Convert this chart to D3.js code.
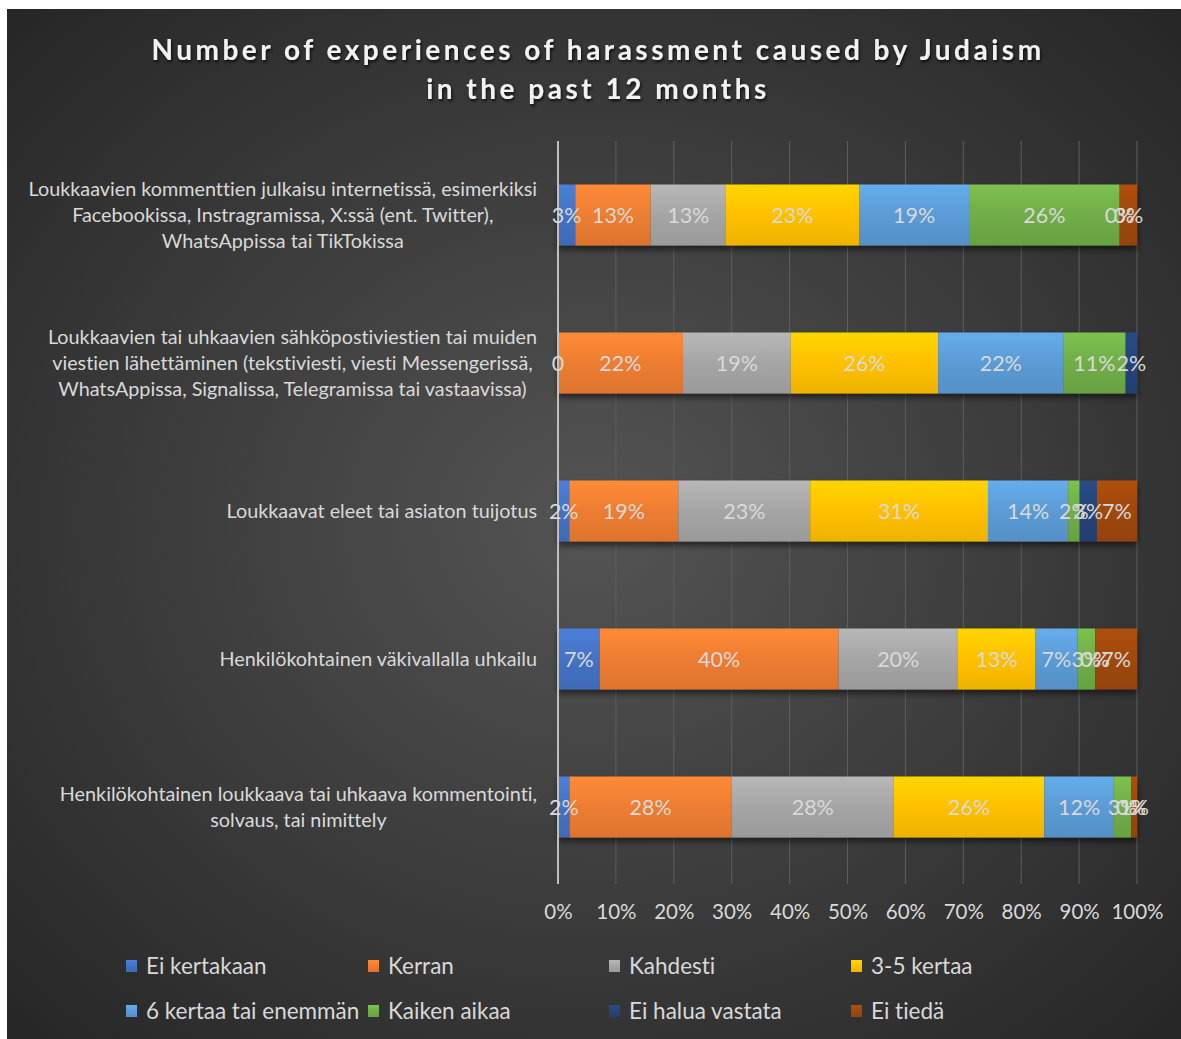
<!DOCTYPE html>
<html>
<head>
<meta charset="utf-8">
<script src="https://cdn.jsdelivr.net/npm/d3@7"></script>
<style>
  html, body { margin: 0; padding: 0; background: #ffffff; }
  svg { display: block; }
  text { font-variant-ligatures: none; }
</style>
</head>
<body>
<svg id="chart" width="1181" height="1039"></svg>
<script>
// Survey categories (rows of the chart)
const categories = [
  ["Loukkaavien kommenttien julkaisu internetissä, esimerkiksi",
   "Facebookissa, Instragramissa, X:ssä (ent. Twitter),",
   "WhatsAppissa tai TikTokissa"],
  ["Loukkaavien tai uhkaavien sähköpostiviestien tai muiden",
   "viestien lähettäminen (tekstiviesti, viesti Messengerissä,",
   "WhatsAppissa, Signalissa, Telegramissa tai vastaavissa)"],
  ["Loukkaavat eleet tai asiaton tuijotus"],
  ["Henkilökohtainen väkivallalla uhkailu"],
  ["Henkilökohtainen loukkaava tai uhkaava kommentointi,",
   "solvaus, tai nimittely"]
];

// Answer options (series)
const seriesNames = ["Ei kertakaan", "Kerran", "Kahdesti", "3-5 kertaa",
  "6 kertaa tai enemmän", "Kaiken aikaa", "Ei halua vastata", "Ei tiedä"];
const seriesColors = ["#4472C4", "#ED7D31", "#A5A5A5", "#FFC000",
  "#5B9BD5", "#70AD47", "#264478", "#9E480E"];

// Percent shares per series, one value per category (null = no answer recorded)
const eiKertakaan    = [3, 0, 2, 7, 2];
const kerran         = [13, 22, 19, 40, 28];
const kahdesti       = [13, 19, 23, 20, 28];
const kertaa3to5     = [23, 26, 31, 13, 26];
const kertaa6plus    = [19, 22, 14, 7, 12];
const kaikenAikaa    = [26, 11, 2, 3, 3];
const eiHaluaVastata = [0, 2, 3, 0, 0];
const eiTieda        = [3, null, 7, 7, 1];
const seriesValues = [eiKertakaan, kerran, kahdesti, kertaa3to5,
  kertaa6plus, kaikenAikaa, eiHaluaVastata, eiTieda];

// Cells whose label is shown as a bare number (category index, series index)
const plainNumberCells = [[1, 0]];

const tickValues = [0, 0.1, 0.2, 0.3, 0.4, 0.5, 0.6, 0.7, 0.8, 0.9, 1.0];

const titleLines = ["Number of experiences of harassment caused by Judaism",
  "in the past 12 months"];

// ---- layout ----
const W = 1181, H = 1039;
const font = "Lato, 'Open Sans', sans-serif";
const labelColor = "#d9d9d9";
const svg = d3.select("#chart");
const defs = svg.append("defs");

// background
const bg = defs.append("radialGradient").attr("id", "bgGrad")
  .attr("cx", "0.5").attr("cy", "0.5").attr("r", "0.72");
bg.append("stop").attr("offset", "0").attr("stop-color", "#545454");
bg.append("stop").attr("offset", "1").attr("stop-color", "#252525");
svg.append("rect").attr("x", 7).attr("y", 9).attr("width", W - 7).attr("height", H - 9)
  .attr("fill", "url(#bgGrad)");

// bar gradients
seriesColors.forEach((c, i) => {
  const g = defs.append("linearGradient").attr("id", "barGrad" + i)
    .attr("x1", 0).attr("y1", 0).attr("x2", 0).attr("y2", 1);
  g.append("stop").attr("offset", "0").attr("stop-color", d3.color(c).brighter(0.3));
  g.append("stop").attr("offset", "0.5").attr("stop-color", c);
  g.append("stop").attr("offset", "1").attr("stop-color", d3.color(c).darker(0.2));
});

// shadow under bars
const sh = defs.append("filter").attr("id", "barShadow")
  .attr("x", "-5%").attr("y", "-20%").attr("width", "110%").attr("height", "150%");
sh.append("feDropShadow").attr("dx", 0).attr("dy", 4).attr("stdDeviation", 3)
  .attr("flood-color", "#000").attr("flood-opacity", 0.55);

// title text shadow
const tsh = defs.append("filter").attr("id", "titleShadow")
  .attr("x", "-5%").attr("y", "-30%").attr("width", "110%").attr("height", "160%");
tsh.append("feDropShadow").attr("dx", 1).attr("dy", 2).attr("stdDeviation", 1.5)
  .attr("flood-color", "#000").attr("flood-opacity", 0.8);

// title
svg.append("g").attr("filter", "url(#titleShadow)")
  .selectAll("text").data(titleLines).join("text")
  .attr("x", 598).attr("y", (d, i) => 60 + i * 39)
  .attr("text-anchor", "middle")
  .attr("font-family", font).attr("font-weight", "bold")
  .attr("font-size", 28).attr("letter-spacing", 3.5)
  .attr("fill", "#f2f2f2")
  .text(d => d);

// scales
const x = d3.scaleLinear().domain([0, 1]).range([558, 1137]);
const y = d3.scaleBand().domain(d3.range(categories.length))
  .range([141, 881]).paddingInner(0.588).paddingOuter(0.294);

// gridlines
svg.append("g").selectAll("line").data(tickValues.slice(1)).join("line")
  .attr("x1", d => x(d)).attr("x2", d => x(d))
  .attr("y1", 141).attr("y2", 884)
  .attr("stroke", "#5e5e5e").attr("stroke-width", 1);

// stacked, normalised to 100%
const rows = categories.map((c, ci) => {
  const r = { idx: ci };
  seriesValues.forEach((arr, si) => { r[si] = arr[ci] == null ? 0 : arr[ci]; });
  return r;
});
const stack = d3.stack().keys(d3.range(seriesNames.length))
  .offset(d3.stackOffsetExpand);
const layers = stack(rows);

const barG = svg.append("g").attr("filter", "url(#barShadow)");
layers.forEach((layer, si) => {
  barG.selectAll(".s" + si).data(layer).join("rect")
    .attr("class", "s" + si)
    .attr("x", d => x(d[0]))
    .attr("y", d => y(d.data.idx))
    .attr("width", d => Math.max(0, x(d[1]) - x(d[0])))
    .attr("height", y.bandwidth())
    .attr("fill", `url(#barGrad${si})`);
});

// axis line at 0%
svg.append("line").attr("x1", x(0)).attr("x2", x(0))
  .attr("y1", 141).attr("y2", 884)
  .attr("stroke", "#bfbfbf").attr("stroke-width", 2);

// data labels
const labelG = svg.append("g");
layers.forEach((layer, si) => {
  labelG.selectAll(".l" + si)
    .data(layer.filter(d => seriesValues[si][d.data.idx] != null))
    .join("text")
    .attr("x", d => (x(d[0]) + x(d[1])) / 2)
    .attr("y", d => y(d.data.idx) + y.bandwidth() / 2)
    .attr("dy", "0.35em")
    .attr("text-anchor", "middle")
    .attr("font-family", font).attr("font-size", 21.5)
    .attr("fill", labelColor)
    .text(d => {
      const v = seriesValues[si][d.data.idx];
      const plain = plainNumberCells.some(p => p[0] === d.data.idx && p[1] === si);
      return plain ? String(v) : v + "%";
    });
});

// x axis tick labels
const axis = d3.axisBottom(x).tickValues(tickValues).tickFormat(d3.format(".0%"))
  .tickSize(0).tickPadding(0);
const axG = svg.append("g").attr("transform", "translate(0,905)").call(axis);
axG.select(".domain").remove();
axG.selectAll("text").attr("font-family", font).attr("font-size", 20.5)
  .attr("fill", labelColor).attr("dy", "0.35em").attr("y", 7);

// category labels: right-aligned block, lines centred within it
const catG = svg.append("g");
categories.forEach((lines, ci) => {
  const cy = y(ci) + y.bandwidth() / 2;
  const lh = 26;
  const g = catG.append("g");
  const texts = g.selectAll("text").data(lines).join("text")
    .attr("y", (d, i) => cy + (i - (lines.length - 1) / 2) * lh)
    .attr("dy", "0.35em")
    .attr("text-anchor", "middle")
    .attr("font-family", font).attr("font-size", 19.8)
    .attr("fill", labelColor)
    .text(d => d);
  let maxW = 0;
  texts.each(function () { maxW = Math.max(maxW, this.getComputedTextLength()); });
  texts.attr("x", 537 - maxW / 2);
});

// legend
const legX = [126, 368, 609, 851];
const legY = [966, 1011];
const legG = svg.append("g");
seriesNames.forEach((name, i) => {
  const lx = legX[i % 4], ly = legY[Math.floor(i / 4)];
  legG.append("rect").attr("x", lx).attr("y", ly - 6).attr("width", 11).attr("height", 12)
    .attr("fill", `url(#barGrad${i})`);
  legG.append("text").attr("x", lx + 20).attr("y", ly).attr("dy", "0.35em")
    .attr("font-family", font).attr("font-size", 22.5)
    .attr("fill", labelColor).text(name);
});
</script>
</body>
</html>
